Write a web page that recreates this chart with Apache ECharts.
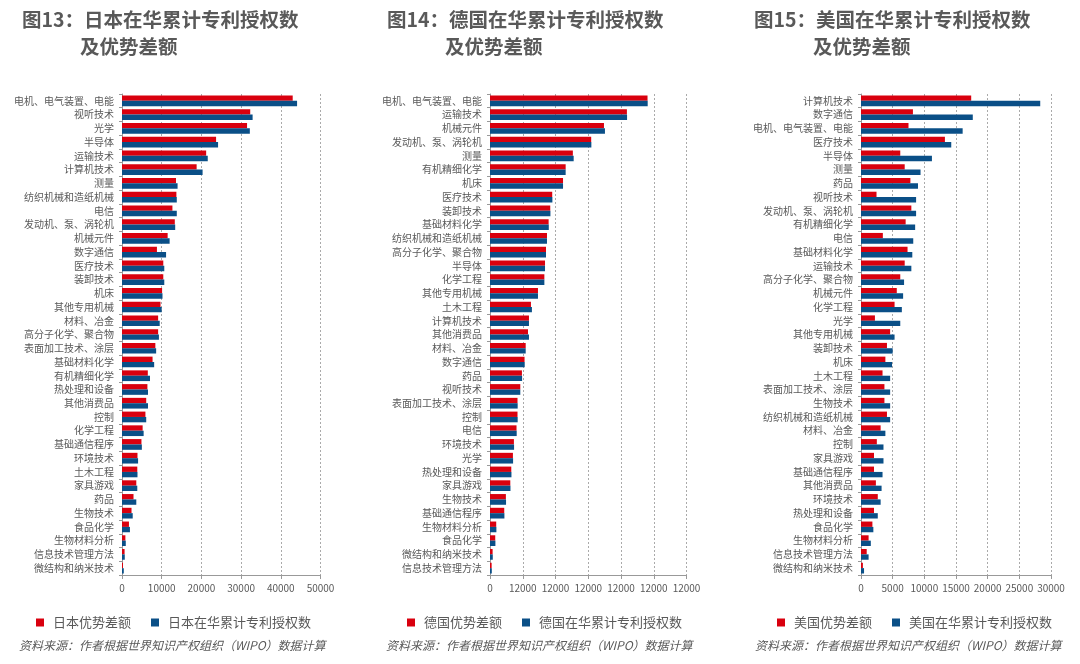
<!DOCTYPE html>
<html>
<head>
<meta charset="utf-8">
<script src="https://cdn.jsdelivr.net/npm/echarts@6/dist/echarts.min.js"></script>
<style>
  html, body { margin: 0; padding: 0; background: #fff; }
  #main { width: 1080px; height: 664px; }
</style>
</head>
<body>
<div id="main"></div>
<script>
// 日本
const jpCategories = ['电机、电气装置、电能', '视听技术', '光学', '半导体', '运输技术', '计算机技术', '测量', '纺织机械和造纸机械', '电信', '发动机、泵、涡轮机', '机械元件', '数字通信', '医疗技术', '装卸技术', '机床', '其他专用机械', '材料、冶金', '高分子化学、聚合物', '表面加工技术、涂层', '基础材料化学', '有机精细化学', '热处理和设备', '其他消费品', '控制', '化学工程', '基础通信程序', '环境技术', '土木工程', '家具游戏', '药品', '生物技术', '食品化学', '生物材料分析', '信息技术管理方法', '微结构和纳米技术'];
const jpAdvantage = [43000, 32300, 31500, 23700, 21200, 18800, 13600, 13700, 12700, 13300, 11500, 8800, 10400, 10400, 10100, 9700, 9100, 9100, 8400, 7700, 6500, 6400, 6100, 5900, 5200, 4900, 3900, 3850, 3600, 2900, 2400, 1750, 850, 650, 250];
const jpTotal = [44100, 32900, 32200, 24200, 21600, 20300, 14000, 13800, 13800, 13400, 12000, 11100, 10650, 10650, 10200, 10000, 9500, 9300, 8600, 8100, 7050, 6550, 6550, 6100, 5450, 5000, 4050, 3900, 3850, 3600, 2700, 2000, 950, 700, 450];

// 德国
const deCategories = ['电机、电气装置、电能', '运输技术', '机械元件', '发动机、泵、涡轮机', '测量', '有机精细化学', '机床', '医疗技术', '装卸技术', '基础材料化学', '纺织机械和造纸机械', '高分子化学、聚合物', '半导体', '化学工程', '其他专用机械', '土木工程', '计算机技术', '其他消费品', '材料、冶金', '数字通信', '药品', '视听技术', '表面加工技术、涂层', '控制', '电信', '环境技术', '光学', '热处理和设备', '家具游戏', '生物技术', '基础通信程序', '生物材料分析', '食品化学', '微结构和纳米技术', '信息技术管理方法'];
const deAdvantage = [48100, 41800, 34800, 30900, 25300, 23100, 22300, 19000, 18400, 17900, 17400, 17100, 16800, 16600, 14650, 12500, 11900, 11600, 10900, 10550, 9750, 9250, 8400, 8400, 8100, 7300, 7000, 6500, 6200, 4850, 4350, 1900, 1600, 800, 500];
const deTotal = [48150, 41850, 35100, 30950, 25550, 23100, 22300, 19050, 18450, 17950, 17400, 17100, 16800, 16600, 14650, 12800, 11900, 11900, 10900, 10600, 9800, 9250, 8450, 8450, 8150, 7350, 7050, 6550, 6250, 4900, 4400, 1950, 1650, 850, 550];
const deTicks = ['0', '12000', '12000', '12000', '12000', '12000', '12000'];

// 美国
const usCategories = ['计算机技术', '数字通信', '电机、电气装置、电能', '医疗技术', '半导体', '测量', '药品', '视听技术', '发动机、泵、涡轮机', '有机精细化学', '电信', '基础材料化学', '运输技术', '高分子化学、聚合物', '机械元件', '化学工程', '光学', '其他专用机械', '装卸技术', '机床', '土木工程', '表面加工技术、涂层', '生物技术', '纺织机械和造纸机械', '材料、冶金', '控制', '家具游戏', '基础通信程序', '其他消费品', '环境技术', '热处理和设备', '食品化学', '生物材料分析', '信息技术管理方法', '微结构和纳米技术'];
const usAdvantage = [17400, 8200, 7500, 13250, 6200, 6900, 7800, 2450, 7950, 7050, 3450, 7350, 6900, 6200, 5650, 5300, 2200, 4600, 4100, 3850, 3400, 3700, 3700, 4100, 3100, 2500, 2050, 2050, 2350, 2650, 2050, 1800, 1200, 900, 300];
const usTotal = [28300, 17650, 16050, 14250, 11200, 9400, 9000, 8700, 8700, 8550, 8250, 8100, 7950, 6800, 6650, 6450, 6200, 5300, 5000, 4900, 4600, 4600, 4600, 4600, 3850, 3550, 3550, 3400, 3250, 3100, 2650, 1950, 1550, 1200, 480];

const RED = '#d9000e';
const BLUE = '#0a4f87';
const GRAY_TEXT = '#595959';
const FONT = '"Noto Sans CJK SC", "Noto Sans", sans-serif';

const panels = [
    { no: '13', country: '日本', cats: jpCategories, adv: jpAdvantage, total: jpTotal, left: 122, width: 198.5, max: 50000, interval: 10000, ticks: null, titleX: 22, subX: 80, legendX: 31, srcX: 19 },
    { no: '14', country: '德国', cats: deCategories, adv: deAdvantage, total: deTotal, left: 490, width: 196.5, max: 60000, interval: 10000, ticks: deTicks, titleX: 387, subX: 445, legendX: 402, srcX: 386 },
    { no: '15', country: '美国', cats: usCategories, adv: usAdvantage, total: usTotal, left: 861, width: 190, max: 30000, interval: 5000, ticks: null, titleX: 754, subX: 813, legendX: 772, srcX: 755 }
];

let option = {
    backgroundColor: '#fff',
    animation: false,
    title: [],
    legend: [],
    grid: [],
    xAxis: [],
    yAxis: [],
    series: [],
    graphic: []
};

panels.forEach(function (p, i) {
    let advName = p.country + '优势差额';
    let totalName = p.country + '在华累计专利授权数';

    option.title.push({
        text: '图' + p.no + '：' + p.country + '在华累计专利授权数',
        left: p.titleX, top: 10, padding: 0,
        textStyle: { fontFamily: FONT, fontSize: 19.5, fontWeight: 'bold', color: GRAY_TEXT }
    });
    option.title.push({
        text: '及优势差额',
        left: p.subX, top: 37, padding: 0,
        textStyle: { fontFamily: FONT, fontSize: 19.5, fontWeight: 'bold', color: GRAY_TEXT }
    });

    option.grid.push({ left: p.left, top: 94, width: p.width, height: 481 });

    option.xAxis.push({
        type: 'value',
        gridIndex: i,
        min: 0,
        max: p.max,
        interval: p.interval,
        axisLine: { show: true, lineStyle: { color: '#999', width: 1 } },
        axisTick: { show: true, length: 4, lineStyle: { color: '#999' } },
        splitLine: { show: true, lineStyle: { color: '#aaa', type: [2, 2], width: 1 } },
        axisLabel: {
            fontFamily: FONT, fontSize: 10, color: GRAY_TEXT, margin: 8,
            formatter: function (v) {
                return p.ticks ? p.ticks[Math.round(v / p.interval)] : String(v);
            }
        }
    });

    option.yAxis.push({
        type: 'category',
        gridIndex: i,
        inverse: true,
        data: p.cats,
        axisLine: { show: true, lineStyle: { color: '#999', width: 1 } },
        axisTick: { show: true, length: 3, lineStyle: { color: '#999' } },
        axisLabel: { fontFamily: FONT, fontSize: 10, color: GRAY_TEXT, margin: 8, interval: 0 }
    });

    option.series.push({
        name: advName, type: 'bar', xAxisIndex: i, yAxisIndex: i,
        data: p.adv, barGap: '0%', barCategoryGap: '22%',
        itemStyle: { color: RED }
    });
    option.series.push({
        name: totalName, type: 'bar', xAxisIndex: i, yAxisIndex: i,
        data: p.total, barGap: '0%', barCategoryGap: '22%',
        itemStyle: { color: BLUE }
    });

    option.legend.push({
        data: [advName, totalName],
        left: p.legendX, top: 611,
        icon: 'path://M0,0h10v10h-10z',
        itemWidth: 16, itemHeight: 8, itemGap: 20,
        textStyle: { fontFamily: FONT, fontSize: 13, color: GRAY_TEXT }
    });

    option.graphic.push({
        type: 'text',
        left: p.srcX, top: 639,
        style: {
            text: '资料来源：作者根据世界知识产权组织（WIPO）数据计算',
            fontFamily: FONT, fontSize: 12, fontStyle: 'italic', fill: GRAY_TEXT
        }
    });
});

let chart = echarts.init(document.getElementById('main'), null, { renderer: 'canvas' });
chart.setOption(option);
</script>
</body>
</html>
